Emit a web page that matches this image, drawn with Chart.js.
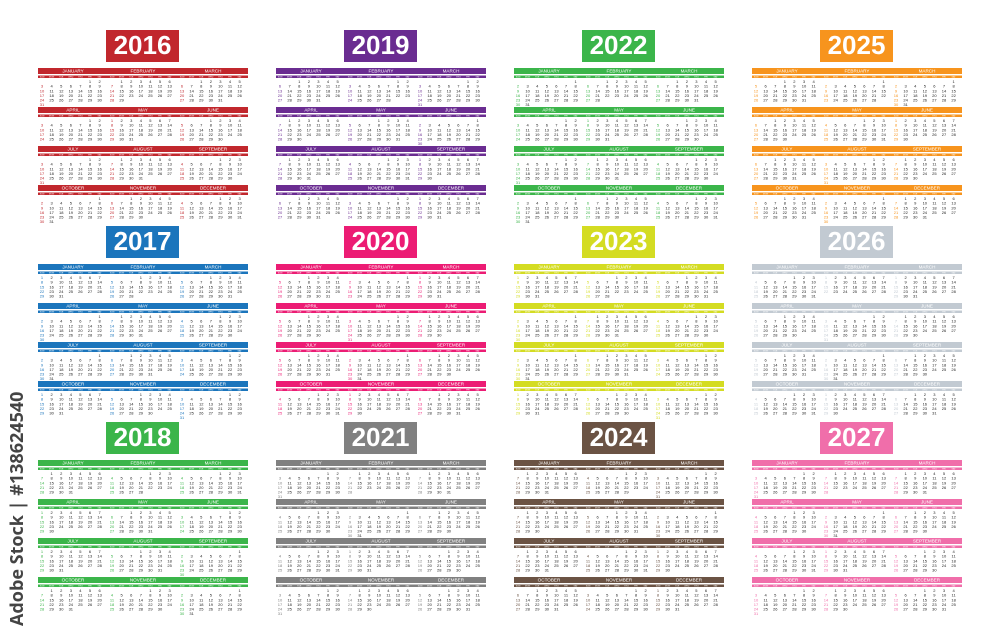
<!DOCTYPE html>
<html><head><meta charset="utf-8">
<script src="https://cdn.jsdelivr.net/npm/chart.js@4"></script>
<style>html,body{margin:0;padding:0;background:#fff}#w{width:1000px;height:641px}</style>
</head><body><div id="w"><canvas id="c"></canvas></div>
<script>
const years = [2016,2017,2018,2019,2020,2021,2022,2023,2024,2025,2026,2027];
const yearColors = ['#c1272d','#1b75bc','#3bb54a','#6a2c91','#ec1c74','#808080','#3bb54a','#d4dc22','#6b5344','#f7941d','#c2cad2','#f06eaa'];
const monthNames = ['JANUARY','FEBRUARY','MARCH','APRIL','MAY','JUNE','JULY','AUGUST','SEPTEMBER','OCTOBER','NOVEMBER','DECEMBER'];
const dayNames = ['SUN','MON','TUE','WED','THU','FRI','SAT'];
const watermark = 'Adobe Stock | #138624540';

const colX = [38,276,514,752];
const rowY = [30,226,422];

const calPlugin = {
  id:'cal',
  afterDraw(chart){
    const ctx = chart.ctx, xs = chart.scales.x, ys = chart.scales.y;
    const X = v=>xs.getPixelForValue(v), Y = v=>ys.getPixelForValue(v);
    ctx.save();
    years.forEach((yr,k)=>{
      const x0 = colX[Math.floor(k/3)], y0 = rowY[k%3], col = yearColors[k];
      ctx.fillStyle = col;
      ctx.fillRect(X(x0+68),Y(y0),X(x0+141)-X(x0+68),Y(y0+32)-Y(y0));
      ctx.fillStyle='#fff'; ctx.font='bold 26px "Liberation Sans", Arial'; ctx.textAlign='center'; ctx.textBaseline='middle';
      ctx.fillText(String(yr), X(x0+104.5), Y(y0+17));
      for(let m=0;m<12;m++){
        const r=Math.floor(m/3), c=m%3;
        const mx = x0 + c*70, my = y0 + 38 + r*39;
        ctx.fillStyle=col;
        ctx.fillRect(X(mx),Y(my),X(mx+70)-X(mx),Y(my+6)-Y(my));
        ctx.fillRect(X(mx),Y(my+7.5),X(mx+70)-X(mx),Y(my+10)-Y(my+7.5));
        ctx.fillStyle='#fff'; ctx.font='4.6px "Liberation Sans", Arial'; ctx.textAlign='center'; ctx.textBaseline='middle';
        ctx.fillText(monthNames[m], X(mx+35), Y(my+3.2));
        ctx.font='2.2px "Liberation Sans", Arial';
        for(let d=0;d<7;d++) ctx.fillText(dayNames[d], X(mx+4+d*9.6), Y(my+8.8));
        const first = new Date(yr,m,1).getDay(), n = new Date(yr,m+1,0).getDate();
        ctx.font='4px "Liberation Sans", Arial';
        for(let d=1;d<=n;d++){
          const idx = first+d-1, wd = idx%7, row = Math.floor(idx/7);
          ctx.fillStyle = wd===0 ? col : '#222';
          ctx.fillText(String(d), X(mx+4+wd*9.6), Y(my+14+row*4.6));
        }
      }
    });
    ctx.translate(X(18),Y(626)); ctx.rotate(-Math.PI/2);
    ctx.fillStyle='#444'; ctx.font='bold 18px "Open Sans", Arial'; ctx.textAlign='left'; ctx.textBaseline='middle';
    ctx.fillText(watermark,0,0);
    ctx.restore();
  }
};
new Chart(document.getElementById('c'),{
  type:'scatter',
  data:{datasets:[{data:[]}]},
  options:{responsive:true,maintainAspectRatio:false,animation:false,devicePixelRatio:2,
    layout:{padding:0},
    plugins:{legend:{display:false},tooltip:{enabled:false}},
    scales:{x:{type:'linear',min:0,max:1000,display:false},y:{type:'linear',min:0,max:641,reverse:true,display:false}}},
  plugins:[calPlugin]
});
</script></body></html>
